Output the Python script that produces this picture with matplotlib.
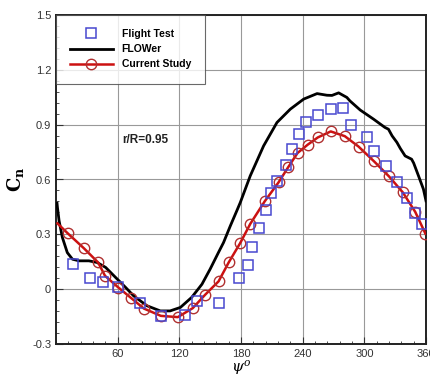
import matplotlib
matplotlib.use("Agg")
import matplotlib.pyplot as plt
from matplotlib.ticker import MultipleLocator, FixedLocator

# ---- data ----
flight_psi = [16.6, 33.5, 45.8, 60.4, 81.4, 102.5, 125.2, 137.2, 159, 178, 186.5, 191,
              197.8, 204, 209, 215, 223.5, 230, 236, 243.5, 255.4, 267.5, 278.8, 287.2,
              302.5, 309.3, 321.2, 331.5, 341.5, 349, 356]
flight_cn = [0.14, 0.06, 0.04, 0.01, -0.077, -0.146, -0.142, -0.067, -0.073, 0.059, 0.133,
             0.232, 0.333, 0.434, 0.525, 0.59, 0.68, 0.766, 0.85, 0.916, 0.955, 0.988, 0.99,
             0.90, 0.835, 0.758, 0.673, 0.584, 0.498, 0.418, 0.356]

flower_psi = [1.0, 1.4, 3, 6.2, 11, 16, 22.5, 32, 40, 48.3, 58, 67.8, 75.6, 88.6, 101.5, 111,
              121, 132, 142, 150, 158, 163, 169.6, 176, 179.3, 189, 202, 215, 228, 241, 254,
              263.6, 268.5, 275, 283, 286, 296, 309, 320, 323.5, 327, 331.7, 335, 339.7, 346,
              348, 352.7, 357.5, 360]
flower_cn = [0.47, 0.447, 0.374, 0.283, 0.20, 0.164, 0.155, 0.155, 0.146, 0.119, 0.064, 0.009,
             -0.037, -0.091, -0.119, -0.119, -0.10, -0.045, 0.027, 0.11, 0.20, 0.255, 0.346,
             0.43, 0.474, 0.62, 0.784, 0.912, 0.985, 1.04, 1.07, 1.061, 1.06, 1.074, 1.049,
             1.03, 0.98, 0.93, 0.885, 0.875, 0.839, 0.803, 0.77, 0.729, 0.711, 0.69, 0.62,
             0.547, 0.483]

study_psi = [1.4, 11.5, 27.1, 41, 47.7, 60.7, 72.8, 85.5, 102, 118.5, 133, 145.2, 158.2, 168,
             179, 189, 203, 216.5, 226, 235, 245, 254.7, 267.3, 281, 294.4, 309.5, 324, 337.5,
             349.5, 359.5]
study_cn = [0.36, 0.305, 0.224, 0.146, 0.073, 0.009, -0.047, -0.106, -0.146, -0.153, -0.104,
            -0.03, 0.043, 0.146, 0.25, 0.357, 0.48, 0.584, 0.668, 0.745, 0.791, 0.83, 0.863,
            0.837, 0.78, 0.699, 0.617, 0.529, 0.423, 0.303]

xticks = [60, 120, 180, 240, 300, 360]
yticks = [-0.3, 0, 0.3, 0.6, 0.9, 1.2, 1.5]
ytick_labels = ["-0.3", "0", "0.3", "0.6", "0.9", "1.2", "1.5"]

# ---- figure ----
plt.rcParams['font.family'] = ['Liberation Sans', 'DejaVu Sans']
plt.rcParams['mathtext.fontset'] = 'dejavuserif'
fig = plt.figure(figsize=(4.31, 3.78), dpi=100)
ax = fig.add_axes([56/431, 1-344/378, (426-56)/431, (344-15)/378])

ax.plot(study_psi, study_cn, color='#cc1111', lw=1.8, marker='o', ms=7.5,
        mfc='none', mec='#b03030', mew=1.0, markevery=list(range(1, len(study_psi))),
        label='Current Study', zorder=4)
ax.plot(flower_psi, flower_cn, color='black', lw=2.0, label='FLOWer', zorder=3)
ax.plot(flight_psi, flight_cn, ls='none', marker='s', ms=6.5, mfc='none',
        mec='#4848d0', mew=1.1, label='Flight Test', zorder=5)

ax.set_xlim(0, 360)
ax.set_ylim(-0.3, 1.5)
ax.xaxis.set_major_locator(FixedLocator(xticks))
ax.xaxis.set_minor_locator(MultipleLocator(12))
ax.set_yticks(yticks)
ax.set_yticklabels(ytick_labels)
ax.yaxis.set_minor_locator(MultipleLocator(0.06))
ax.tick_params(which='both', direction='in', top=False, right=False,
               labelsize=8, labelcolor='#333333', color='#333333')
ax.tick_params(which='major', length=5, width=0.8)
ax.tick_params(which='minor', length=2.5, width=0.6)
ax.grid(True, which='major', color='#999999', lw=0.8)
ax.set_axisbelow(True)
for s in ax.spines.values():
    s.set_linewidth(1.4)
    s.set_color('#222222')

ax.set_xlabel(r'$\psi^{o}$', fontsize=11, labelpad=0)
ax.set_ylabel(r'$\mathbf{C_n}$', fontsize=13, labelpad=4)

ax.text(0.178, 0.61, 'r/R=0.95', transform=ax.transAxes, fontsize=8.5,
        fontweight='bold', color='#222222')

h, l = ax.get_legend_handles_labels()
order = [2, 1, 0]
leg = ax.legend([h[i] for i in order], [l[i] for i in order], loc='upper left',
                bbox_to_anchor=(0.0, 1.0), borderaxespad=0, frameon=True, fancybox=False,
                prop={'size': 7.5, 'weight': 'bold'}, handlelength=4.1,
                borderpad=1.35, labelspacing=0.5, handletextpad=0.85)
leg.get_frame().set_edgecolor('#444444')
leg.get_frame().set_linewidth(0.8)

fig.savefig('out.png', dpi=100)
